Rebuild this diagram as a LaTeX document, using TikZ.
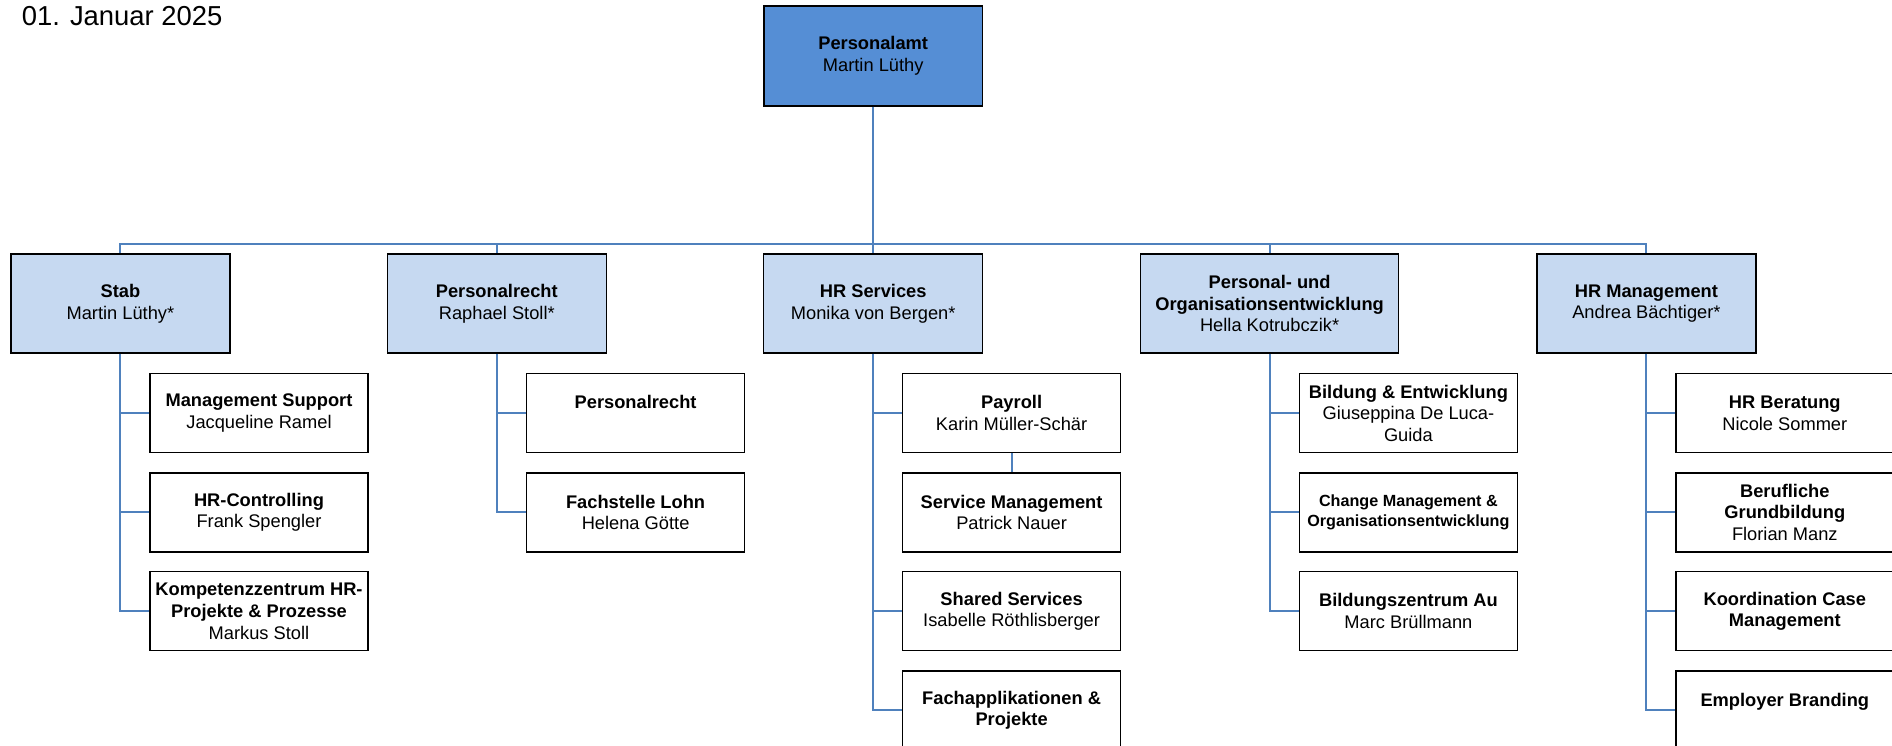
\documentclass[tikz,border=0pt]{standalone}
\usepackage{fontspec}
\setmainfont{Liberation Sans}
\definecolor{amtblau}{HTML}{558ED5}
\definecolor{abtblau}{HTML}{C6D9F1}
\definecolor{linienblau}{HTML}{4F81BD}
\begin{document}
\begin{tikzpicture}
\tikzset{
	amt/.style={rectangle, draw=black, line width=1pt, fill=amtblau, minimum width=5.47cm, minimum height=2.5cm, align=center, font=\fontsize{13}{15.4}\selectfont},
	abt/.style={rectangle, draw=black, line width=1pt, fill=abtblau, minimum width=5.475cm, minimum height=2.475cm, align=center, font=\fontsize{13}{15.4}\selectfont},
	stelle/.style={rectangle, draw=black, line width=1pt, fill=white, minimum width=5.45cm, minimum height=1.975cm, align=center, font=\fontsize{13}{15.4}\selectfont},
	linie/.style={draw=linienblau, line width=1.5pt}
}
\useasboundingbox (0,0) rectangle (47.3,18.65);

% Datum
\node[anchor=base west, font=\fontsize{19.5}{23}\selectfont] (datum) at (0.42,18.0) {01. Januar 2025};

% Personalamt
\node[amt] (amt) at (21.83,17.25) {\textbf{Personalamt}\\Martin Lüthy};
\coordinate (bus) at (21.83,12.55);

% Abteilungen
\node[abt] (stab) at (3.01,11.06) {\textbf{Stab}\\Martin Lüthy*};
\node[abt] (recht) at (12.42,11.06) {\textbf{Personalrecht}\\Raphael Stoll*};
\node[abt] (hrs) at (21.83,11.06) {\textbf{HR Services}\\Monika von Bergen*};
\node[abt, minimum width=6.45cm] (poe) at (31.74,11.06) {\textbf{Personal- und}\\\textbf{Organisationsentwicklung}\\Hella Kotrubczik*};
\node[abt] (hrm) at (41.16,11.06) {\textbf{HR Management}\\Andrea Bächtiger*};

% Stab
\node[stelle] (ms) at (6.475,8.32) {\textbf{Management Support}\\Jacqueline Ramel};
\node[stelle] (contr) at (6.475,5.84) {\textbf{HR-Controlling}\\Frank Spengler};
\node[stelle] (kompz) at (6.475,3.37) {\textbf{Kompetenzzentrum HR-}\\\textbf{Projekte \& Prozesse}\\Markus Stoll};

% Personalrecht
\node[stelle] (recht1) at (15.89,8.32) {\textbf{Personalrecht}\\~};
\node[stelle] (lohn) at (15.89,5.84) {\textbf{Fachstelle Lohn}\\Helena Götte};

% HR Services
\node[stelle] (payroll) at (25.29,8.32) {\textbf{Payroll}\\Karin Müller-Schär};
\node[stelle] (servm) at (25.29,5.84) {\textbf{Service Management}\\Patrick Nauer};
\node[stelle] (shared) at (25.29,3.37) {\textbf{Shared Services}\\Isabelle Röthlisberger};
\node[stelle] (fachapp) at (25.29,0.89) {\textbf{Fachapplikationen \&}\\\textbf{Projekte}};

% Personal- und Organisationsentwicklung
\node[stelle] (bildung) at (35.21,8.32) {\textbf{Bildung \& Entwicklung}\\Giuseppina De Luca-\\Guida};
\node[stelle, font=\fontsize{11.5}{14.2}\selectfont\bfseries] (change) at (35.21,5.84) {Change Management \&\\Organisationsentwicklung};
\node[stelle] (bzau) at (35.21,3.37) {\textbf{Bildungszentrum Au}\\Marc Brüllmann};

% HR Management
\node[stelle] (beratung) at (44.62,8.32) {\textbf{HR Beratung}\\Nicole Sommer};
\node[stelle] (grundb) at (44.62,5.84) {\textbf{Berufliche}\\\textbf{Grundbildung}\\Florian Manz};
\node[stelle] (kcm) at (44.62,3.37) {\textbf{Koordination Case}\\\textbf{Management}};
\node[stelle] (branding) at (44.62,0.89) {\textbf{Employer Branding}\\~};

% Linien Amt -- Abteilungen
\draw[linie] (amt.south) -- (bus);
\draw[linie] (bus) -| (stab.north);
\draw[linie] (bus) -| (recht.north);
\draw[linie] (bus) -- (hrs.north);
\draw[linie] (bus) -| (poe.north);
\draw[linie] (bus) -| (hrm.north);

% Linien Stab
\draw[linie] (stab.south) |- (ms.west);
\draw[linie] (stab.south) |- (contr.west);
\draw[linie] (stab.south) |- (kompz.west);
% Linien Personalrecht
\draw[linie] (recht.south) |- (recht1.west);
\draw[linie] (recht.south) |- (lohn.west);
% Linien HR Services
\draw[linie] (hrs.south) |- (payroll.west);
\draw[linie] (payroll.south) -- (servm.north);
\draw[linie] (hrs.south) |- (shared.west);
\draw[linie] (hrs.south) |- (fachapp.west);
% Linien Personal- und Organisationsentwicklung
\draw[linie] (poe.south) |- (bildung.west);
\draw[linie] (poe.south) |- (change.west);
\draw[linie] (poe.south) |- (bzau.west);
% Linien HR Management
\draw[linie] (hrm.south) |- (beratung.west);
\draw[linie] (hrm.south) |- (grundb.west);
\draw[linie] (hrm.south) |- (kcm.west);
\draw[linie] (hrm.south) |- (branding.west);

\end{tikzpicture}
\end{document}
